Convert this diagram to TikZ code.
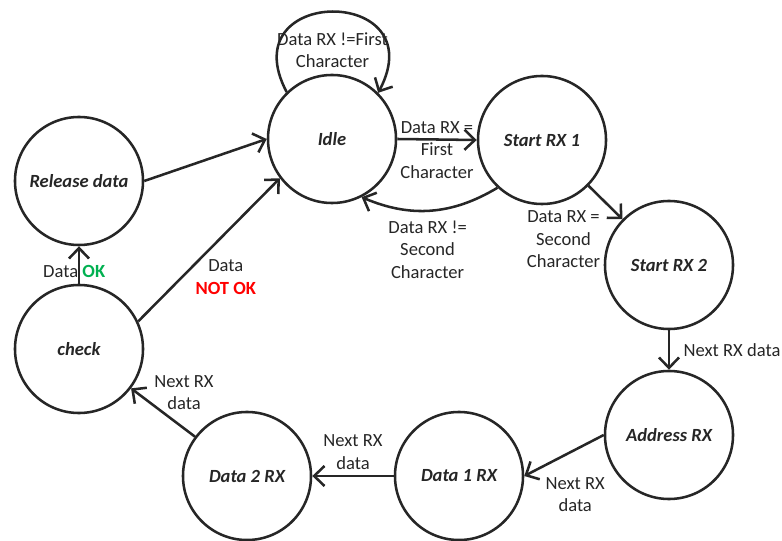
\documentclass[tikz,border=0pt]{standalone}
\usepackage{fontspec}
\setmainfont{Carlito}
\usepackage{xcolor}
\usepackage{tikz}
\usetikzlibrary{arrows.meta}
\definecolor{ink}{HTML}{262626}
\definecolor{okgreen}{HTML}{00B050}
\definecolor{notok}{HTML}{FF0000}
\newcommand{\lblfont}{\fontsize{13.2}{15.8}\selectfont}

\begin{document}
\begin{tikzpicture}[x=0.025cm,y=0.025cm,
    state/.style={circle,draw=ink,line width=1.8pt,minimum size=3.2cm,inner sep=0pt,text=ink,font=\lblfont\bfseries\itshape},
    trans/.style={draw=ink,line width=1.8pt,-{Straight Barb[length=2.6mm,width=5mm]}},
    lbl/.style={align=center,text=ink,inner sep=1pt,font=\lblfont}]
    \useasboundingbox (0,0) rectangle (782,540);
    \node[state] (idle) at (332,401) {Idle};
    \node[state] (start1) at (542,400) {Start RX 1};
    \node[state] (start2) at (669,275) {Start RX 2};
    \node[state] (addr) at (669,105) {Address RX};
    \node[state] (data1) at (459,64) {Data 1 RX};
    \node[state] (data2) at (247,64) {Data 2 RX};
    \node[state] (check) at (79,191) {check};
    \node[state] (release) at (79,359) {Release data};
    \draw[trans] (idle.134) .. controls (230,555) and (435,555) .. node[lbl,yshift=-0.95cm] {Data RX !=First\\Character} (idle.45);
    \draw[trans] (idle.east) -- node[lbl,yshift=-0.26cm] {Data RX =\\First\\Character} (start1.west);
    \draw[trans] (start1.227) to[bend left=27] node[lbl,xshift=-0.08cm,yshift=-0.98cm] {Data RX !=\\Second\\Character} (idle.297);
    \draw[trans] (start1) -- node[lbl,xshift=-1.05cm,yshift=-0.92cm] {Data RX =\\Second\\Character} (start2);
    \draw[trans] (start2) -- node[lbl,right=0.3cm] {Next RX data} (addr);
    \draw[trans] (addr.west) -- node[lbl,below=0.48cm,xshift=0.28cm] {Next RX\\data} (data1.east);
    \draw[trans] (data1.west) -- node[lbl,above=0.1cm] {Next RX\\data} (data2.east);
    \draw[trans] (data2) -- node[lbl,above right,xshift=-0.28cm] {Next RX\\data} (check);
    \draw[trans] (check) -- node[lbl,xshift=-0.12cm,yshift=-0.15cm] {Data \textcolor{okgreen}{\textbf{OK}}} (release);
    \draw[trans] (check.25) -- node[lbl,xshift=0.42cm,yshift=-0.68cm] {Data\\\textcolor{notok}{\textbf{NOT OK}}} (idle.217);
    \draw[trans] (release.east) -- (idle.west);
  \end{tikzpicture}
\end{document}
